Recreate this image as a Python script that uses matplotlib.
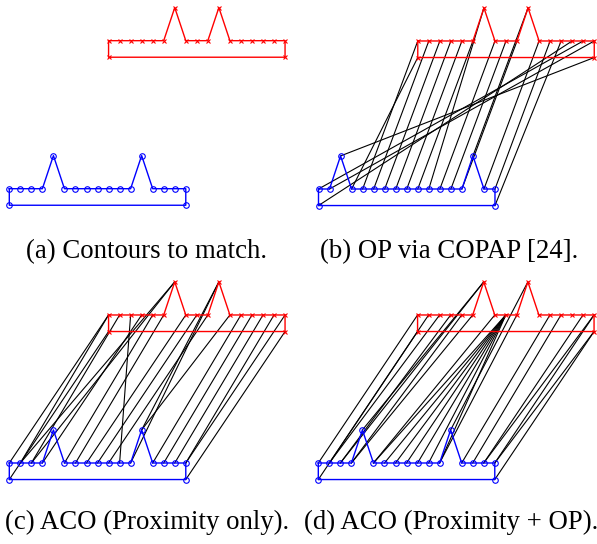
import matplotlib
matplotlib.use("Agg")
import matplotlib.pyplot as plt

W, H = 597, 544
U = 11.03  # pixels per contour unit

# contour top points (x positions) and heights
top_x = [0, 1, 2, 3, 4, 5, 6, 7, 8, 9, 10, 11, 12, 13, 14, 15, 16]
red_top_y = [0, 0, 0, 0, 0, 0, 3, 0, 0, 0, 3, 0, 0, 0, 0, 0, 0]
blue_top_y = [0, 0, 0, 0, 3, 0, 0, 0, 0, 0, 0, 0, 3, 0, 0, 0, 0]
blue_top_y_b = [0, 0, 3, 0, 0, 0, 0, 0, 0, 0, 0, 0, 0, 0, 3, 0, 0]
corner_x = [16, 0]
corner_y = [-1.5, -1.5]
red_offset = (9.0, 13.42)

# matches: (red index, blue index); indices 0..16 top points, 17 bottom-right, 18 bottom-left
match_b = [(0, 4), (1, 5), (2, 6), (3, 7), (4, 8), (5, 9), (6, 10), (7, 11), (8, 12),
           (9, 13), (10, 14), (11, 15), (12, 16), (13, 17), (14, 18), (15, 0), (16, 1),
           (17, 2), (18, 3)]
match_c = [(18, 18), (0, 0), (0, 1), (1, 2), (6, 1), (6, 2), (2, 10), (3, 3), (4, 5),
           (5, 6), (7, 7), (8, 8), (9, 9), (10, 11), (10, 12), (11, 12), (12, 13),
           (13, 14), (14, 15), (15, 16), (16, 16), (17, 17)]
match_d = [(18, 18), (0, 0), (1, 1), (2, 1), (3, 2), (4, 3), (5, 3), (6, 4), (6, 2),
           (7, 5), (8, 5), (8, 6), (8, 7), (8, 8), (8, 9), (8, 10), (8, 11), (9, 11),
           (10, 12), (12, 13), (13, 14), (15, 15), (16, 15), (16, 16), (17, 16),
           (17, 17)]

captions = ["(a) Contours to match.", "(b) OP via COPAP [24].",
            "(c) ACO (Proximity only).", "(d) ACO (Proximity + OP)."]

# panel layout in pixels: blue origin, axes box (x0, y0, x1, y1), caption centre
panels = [
    dict(origin=(9.3, 188.7), box=(0, 0, 297, 218), cap=(146, 252), blue=blue_top_y, match=[]),
    dict(origin=(318.5, 189.0), box=(298, 0, 597, 218), cap=(449, 252), blue=blue_top_y_b, match=match_b),
    dict(origin=(9.3, 463.0), box=(0, 272, 297, 492), cap=(147, 522), blue=blue_top_y, match=match_c),
    dict(origin=(318.3, 463.0), box=(298, 272, 597, 492), cap=(451, 522), blue=blue_top_y, match=match_d),
]

fig = plt.figure(figsize=(W / 100, H / 100), dpi=100)

for p, cap in zip(panels, captions):
    bx, by = p["origin"]
    x0, y0, x1, y1 = p["box"]
    ax = fig.add_axes([x0 / W, 1 - y1 / H, (x1 - x0) / W, (y1 - y0) / H])
    ax.set_xlim((x0 - bx) / U, (x1 - bx) / U)
    ax.set_ylim((by - y1) / U, (by - y0) / U)
    ax.axis("off")

    rx = [x + red_offset[0] for x in top_x + corner_x]
    ry = [y + red_offset[1] for y in red_top_y + corner_y]
    bxs = list(top_x + corner_x)
    bys = list(p["blue"] + corner_y)

    for ri, bi in p["match"]:
        ax.plot([rx[ri], bxs[bi]], [ry[ri], bys[bi]], color="black", lw=0.8, zorder=1)

    ax.plot(rx + [rx[0]], ry + [ry[0]], color="#ff0000", lw=1.0, zorder=2)
    ax.plot(rx, ry, ls="none", marker="x", color="#ff0000", ms=2.5, mew=0.8, zorder=3)
    ax.plot(bxs + [bxs[0]], bys + [bys[0]], color="#0000ff", lw=1.0, zorder=2)
    ax.plot(bxs, bys, ls="none", marker="o", mfc="none", mec="#0000ff", ms=4, mew=0.8, zorder=3)

    fig.text(p["cap"][0] / W, 1 - p["cap"][1] / H, cap, ha="center", va="center",
             fontsize=19.3, family="Liberation Serif")

fig.savefig("out.png", dpi=100)
